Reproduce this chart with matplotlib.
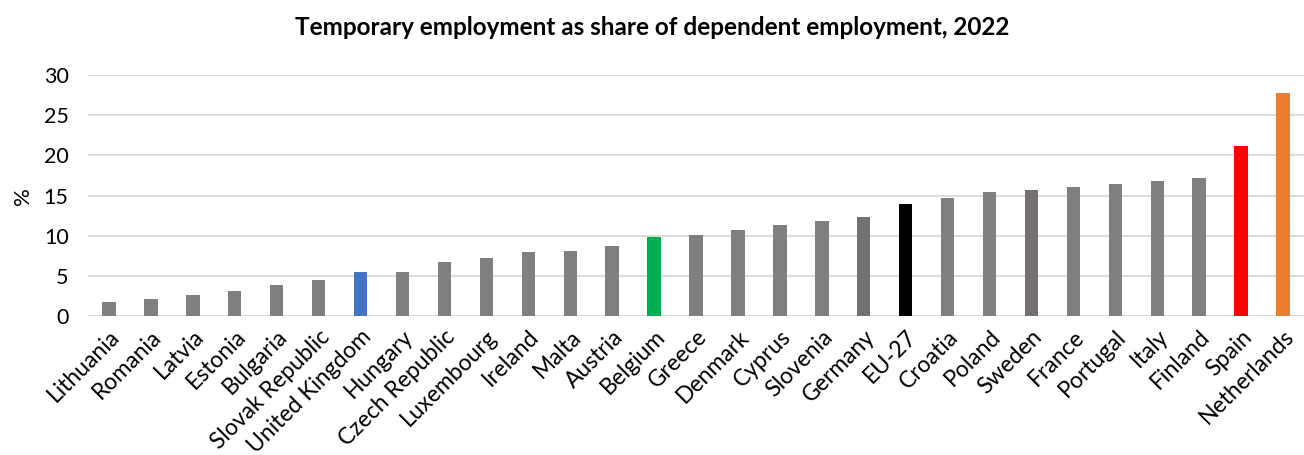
import matplotlib
matplotlib.use('Agg')
import matplotlib.pyplot as plt
import numpy as np

countries = ['Lithuania', 'Romania', 'Latvia', 'Estonia', 'Bulgaria', 'Slovak Republic',
             'United Kingdom', 'Hungary', 'Czech Republic', 'Luxembourg', 'Ireland', 'Malta',
             'Austria', 'Belgium', 'Greece', 'Denmark', 'Cyprus', 'Slovenia', 'Germany', 'EU-27',
             'Croatia', 'Poland', 'Sweden', 'France', 'Portugal', 'Italy', 'Finland', 'Spain',
             'Netherlands']
share = [1.8, 2.1, 2.6, 3.1, 3.9, 4.5, 5.5, 5.5, 6.7, 7.3, 8.0, 8.1, 8.7, 9.8, 10.1,
         10.7, 11.4, 11.8, 12.4, 14.0, 14.7, 15.4, 15.7, 16.1, 16.4, 16.8, 17.2, 21.2, 27.8]

highlight = {'United Kingdom': '#4472C4', 'Belgium': '#00B050', 'EU-27': '#000000',
             'Spain': '#FF0000', 'Netherlands': '#ED7D31',
             'Germany': '#767171', 'Sweden': '#767171'}

plt.rcParams['font.family'] = ['Lato', 'DejaVu Sans']

fig = plt.figure(figsize=(13.04, 4.55), dpi=100)
ax = fig.add_axes([0.0675, 0.305, 0.9325, 0.53])

x = np.arange(len(countries))
colors = [highlight.get(c, '#7F7F7F') for c in countries]
ax.bar(x, share, width=0.32, color=colors, zorder=3)

ax.set_xlim(-0.5, len(countries) - 0.5)
ax.set_ylim(0, 30)
ax.set_yticks(range(0, 31, 5))
ax.yaxis.grid(True, color='#D9D9D9', linewidth=1.3, zorder=0)
for s in ax.spines.values():
    s.set_visible(False)
ax.axhline(0, color='#D9D9D9', linewidth=1.3, zorder=2)
ax.tick_params(axis='both', length=0, colors='#000000')
ax.tick_params(axis='x', labelsize=16.5, pad=7)
ax.tick_params(axis='y', labelsize=15.5, pad=14)
ax.set_xticks(x)
ax.set_xticklabels(countries, rotation=45, ha='right', rotation_mode='anchor')
ax.set_ylabel('%', fontsize=16, labelpad=8)

fig.text(0.5, 0.94, 'Temporary employment as share of dependent employment, 2022',
         ha='center', va='center', fontsize=17.5, fontweight='bold')

fig.savefig('out.png', dpi=100)
